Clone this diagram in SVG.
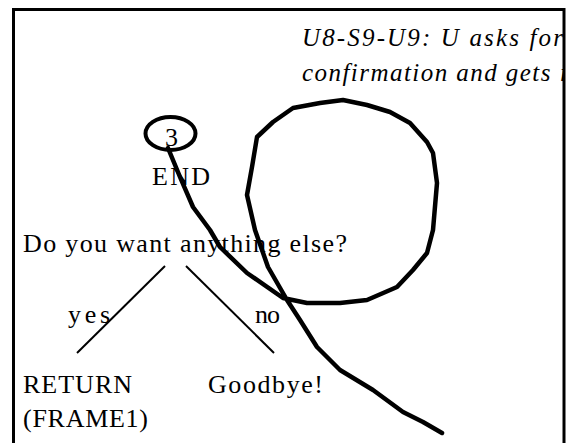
<svg xmlns="http://www.w3.org/2000/svg" width="579" height="443" viewBox="0 0 579 443">
<style>
  .t { font-family: "Liberation Serif", "Times New Roman", serif; font-size: 26px; fill: #000; }
  .it { font-family: "Liberation Serif", "Times New Roman", serif; font-size: 25px; font-style: italic; fill: #000; }
  .edge { fill: none; stroke: #000; stroke-width: 2; }
  .ink { fill: none; stroke: #000; stroke-width: 4.5; stroke-linejoin: round; stroke-linecap: round; }
</style>
<defs>
  <clipPath id="inner"><rect x="14" y="10" width="549" height="440"/></clipPath>
</defs>
<rect x="0" y="0" width="579" height="443" fill="#fff"/>
<rect id="frame" x="13.5" y="9.5" width="550.5" height="445" fill="none" stroke="#000" stroke-width="3"/>
<g id="annotation" clip-path="url(#inner)">
  <text class="it" x="302" y="46" textLength="261" lengthAdjust="spacing">U8-S9-U9: U asks for</text>
  <text class="it" x="302" y="81" textLength="273" lengthAdjust="spacing">confirmation and gets it</text>
</g>
<g id="node-end">
  <ellipse cx="170.5" cy="133.5" rx="25" ry="16.5" fill="none" stroke="#000" stroke-width="4"/>
  <text class="t" x="165" y="146" font-size="23">3</text>
  <text class="t" x="152" y="185" textLength="58" lengthAdjust="spacing">END</text>
</g>
<g id="node-question">
  <text class="t" x="23" y="252" textLength="324" lengthAdjust="spacing">Do you want anything else?</text>
</g>
<g id="node-return">
  <text class="t" x="23" y="393" textLength="109" lengthAdjust="spacing">RETURN</text>
  <text class="t" x="23" y="427" textLength="125" lengthAdjust="spacing">(FRAME1)</text>
</g>
<g id="node-goodbye">
  <text class="t" x="208" y="393" textLength="115" lengthAdjust="spacing">Goodbye!</text>
</g>
<g id="connectors">
  <line class="edge" x1="165" y1="266" x2="77" y2="353"/>
  <line class="edge" x1="186" y1="266" x2="274" y2="353"/>
  <text class="t" x="68" y="323" font-size="25" textLength="42" lengthAdjust="spacing">yes</text>
  <text class="t" x="255" y="323" font-size="25" textLength="25" lengthAdjust="spacing">no</text>
</g>
<g id="ink-stroke">
  <path class="ink" d="M168,148 L180,177 L193,207 L210,230 L220,247 L247,273 L283,298 L307,303 L340,303 L367,300 L397,287 L413,270 L427,253 L433,230 L437,183 L433,153 L427,142 L410,123 L390,112 L367,105 L343,100 L320,103 L293,108 L273,122 L257,137 L252,167 L247,195 L255,230 L268,267 L287,300 L300,320 L317,347 L340,370 L373,390 L403,412 L423,422 L442,433"/>
</g>
</svg>
